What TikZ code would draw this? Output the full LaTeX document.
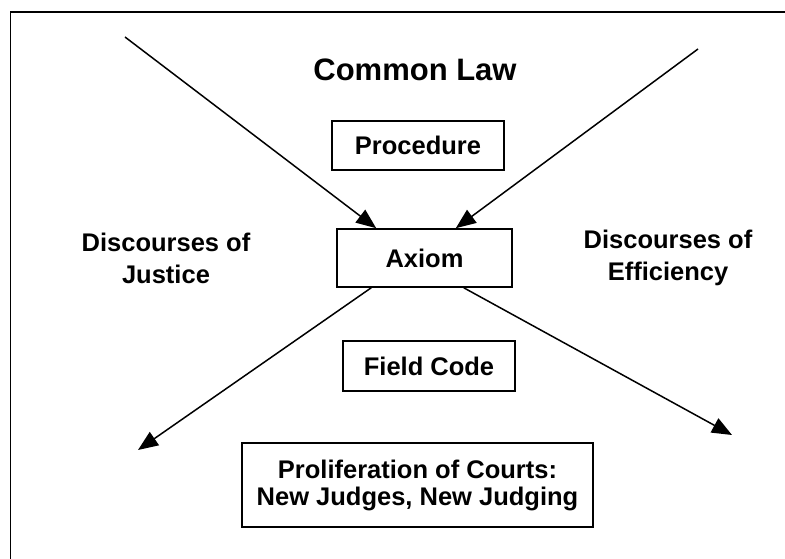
\documentclass[tikz,border=0pt]{standalone}
\usepackage{fontspec}
\setmainfont{Liberation Sans}
\usetikzlibrary{arrows.meta, positioning}

\begin{document}
\begin{tikzpicture}[
    x=1pt, y=-1pt,
    box/.style={rectangle, draw, line width=1.6pt, inner sep=0pt, font=\fontsize{25.5}{30}\selectfont\bfseries},
    word/.style={align=center, font=\fontsize{25.5}{32}\selectfont\bfseries},
    arrow/.style={-{Triangle[length=20pt, width=16pt]}, line width=1.5pt}
]
    \useasboundingbox (0,0) rectangle (785,559);
    \clip (0,0) rectangle (785,559);
    % Frame
    \draw [line width=1.8pt] (10.5,562) |- (788,12);

    % Nodes
    \node (title) at (415,70) [word, font=\fontsize{31}{36}\selectfont\bfseries] {Common Law};
    \node (procedure) at (418,145.5) [box, minimum width=172pt, minimum height=49pt] {Procedure};
    \node (axiom) at (424.5,258) [box, minimum width=175pt, minimum height=58pt] {Axiom};
    \node (field) at (429,366) [box, minimum width=172pt, minimum height=50pt] {Field Code};
    \node (courts) at (417.5,485) [box, align=center, minimum width=351pt, minimum height=84pt, font=\fontsize{25.5}{27}\selectfont\bfseries] {Proliferation of Courts:\\New Judges, New Judging};
    \node (justice) at (166,258) [word] {Discourses of\\Justice};
    \node (efficiency) at (668,258) [word] {Discourses of\\Efficiency};

    % Free ends
    \coordinate (nw) at (125,37);
    \coordinate (ne) at (698,49);
    \coordinate (sw) at (138,450);
    \coordinate (se) at (732,435);

    % Paths
    \draw [arrow] (nw) -- ([xshift=40pt]axiom.north west);
    \draw [arrow] (ne) -- ([xshift=-57pt]axiom.north east);
    \draw [arrow] ([xshift=35pt]axiom.south west) -- (sw);
    \draw [arrow] ([xshift=-49pt]axiom.south east) -- (se);
\end{tikzpicture}
\end{document}
